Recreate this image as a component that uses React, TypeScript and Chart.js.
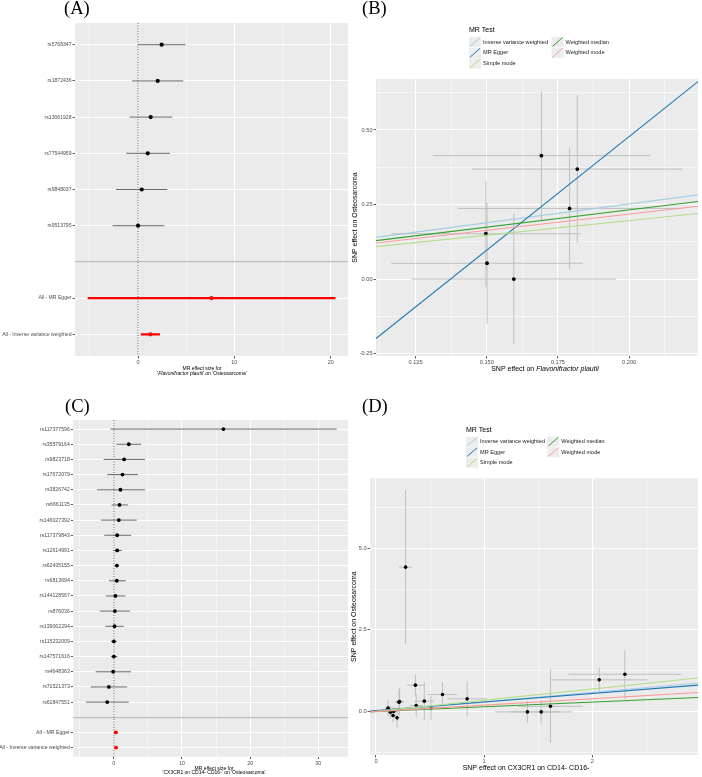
import React, { useEffect, useRef } from "react";
import { Chart, registerables } from "chart.js";

Chart.register(...registerables);

const FONT = "'Liberation Sans', Arial, Helvetica, sans-serif";
const SERIF = "'Liberation Serif', 'Times New Roman', serif";

// ---------- Panel A : forest plot ----------
const A_SNPS = ["rs5768347", "rs1872436", "rs13061928", "rs77544959", "rs9848037", "rs9513795"];
const A_EST = [2.45, 2.04, 1.31, 1.0, 0.38, 0.0];
const A_LO = [0.0, -0.62, -0.9, -1.24, -2.3, -2.65];
const A_HI = [4.93, 4.7, 3.56, 3.31, 3.04, 2.73];
const SUMMARY_LABELS = ["All - MR Egger", "All - Inverse variance weighted"];
const A_SUM_EST = [7.62, 1.28];
const A_SUM_LO = [-5.23, 0.28];
const A_SUM_HI = [20.5, 2.27];
const A_X_RANGE = [-6.55, 21.8];
const A_X_MAJOR = [0, 10, 20];
const A_X_MAJOR_LABELS = ["0", "10", "20"];
const A_X_MINOR = [-5, 5, 15];

// ---------- Panel C : forest plot ----------
const C_SNPS = [
  "rs117377596", "rs35579164", "rs9823718", "rs17672079", "rs3826742", "rs6661135",
  "rs146027392", "rs117379843", "rs12614991", "rs62435155", "rs6813694", "rs144128567",
  "rs876036", "rs139062294", "rs115232009", "rs147571616", "rs4648363", "rs71521373", "rs61847551",
];
const C_EST = [16.08, 2.19, 1.51, 1.27, 0.97, 0.83, 0.73, 0.49, 0.49, 0.44, 0.44, 0.24, 0.15, 0.1, 0.0, 0.0, -0.1, -0.73, -0.97];
const C_LO = [-0.48, 0.39, -1.51, -0.97, -2.48, -0.34, -1.9, -1.41, -0.1, 0.15, -0.73, -1.17, -2.05, -1.27, -0.44, -0.44, -2.68, -3.41, -4.09];
const C_HI = [32.7, 4.0, 4.58, 3.56, 4.58, 2.1, 3.36, 2.53, 1.17, 0.78, 1.75, 1.71, 2.39, 1.46, 0.44, 0.54, 2.53, 1.95, 2.19];
const C_SUM_EST = [0.29, 0.33];
const C_SUM_LO = [0.05, 0.15];
const C_SUM_HI = [0.54, 0.52];
const C_X_RANGE = [-5.95, 34.36];
const C_X_MAJOR = [0, 10, 20, 30];
const C_X_MAJOR_LABELS = ["0", "10", "20", "30"];
const C_X_MINOR = [-5, 5, 15, 25];

// ---------- MR methods ----------
const METHODS = ["Inverse variance weighted", "MR Egger", "Simple mode", "Weighted median", "Weighted mode"];
const METHOD_COLORS = ["#A6CEE3", "#1F78B4", "#B2DF8A", "#33A02C", "#FB9A99"];

// ---------- Panel B : scatter ----------
const B_X = [0.1692, 0.1818, 0.1791, 0.1497, 0.1501, 0.1595];
const B_Y = [0.414, 0.369, 0.237, 0.152, 0.053, 0.0];
const B_X_ERR = [0.0381, 0.0369, 0.0393, 0.0332, 0.0336, 0.0359];
const B_Y_ERR = [0.215, 0.248, 0.204, 0.177, 0.203, 0.219];
const B_SLOPES = [1.26, 7.62, 0.98, 1.16, 1.09];
const B_INTERCEPTS = [0, -1.046, 0, 0, 0];
const B_X_RANGE = [0.1111, 0.2242];
const B_Y_RANGE = [-0.258, 0.671];
const B_X_MAJOR = [0.125, 0.15, 0.175, 0.2];
const B_X_MAJOR_LABELS = ["0.125", "0.150", "0.175", "0.200"];
const B_X_MINOR = [0.1125, 0.1375, 0.1625, 0.1875, 0.2125];
const B_Y_MAJOR = [-0.25, 0, 0.25, 0.5];
const B_Y_MAJOR_LABELS = ["-0.25", "0.00", "0.25", "0.50"];
const B_Y_MINOR = [-0.125, 0.125, 0.375, 0.625];

// ---------- Panel D : scatter ----------
const D_X = [0.274, 0.112, 0.134, 0.164, 0.158, 0.195, 0.213, 0.219, 0.365, 0.372, 0.447, 0.509, 0.615, 0.843, 1.4, 1.528, 1.613, 2.064, 2.301];
const D_Y = [4.42, 0.104, -0.018, 0.0, -0.122, -0.193, 0.288, 0.306, 0.808, 0.184, 0.318, 0.113, 0.52, 0.389, -0.01, -0.01, 0.16, 0.97, 1.14];
const D_X_ERR = [0.061, 0.03, 0.03, 0.04, 0.03, 0.025, 0.04, 0.04, 0.078, 0.06, 0.09, 0.14, 0.137, 0.18, 0.3, 0.29, 0.3, 0.45, 0.52];
const D_Y_ERR = [2.36, 0.25, 0.2, 0.15, 0.2, 0.3, 0.4, 0.43, 0.33, 0.35, 0.58, 0.36, 0.37, 0.53, 0.33, 0.35, 1.12, 0.37, 0.75];
const D_SLOPES = [0.293, 0.262, 0.345, 0.145, 0.196];
const D_INTERCEPTS = [0, 0.03, 0, 0, 0];
const D_X_RANGE = [-0.055, 2.977];
const D_Y_RANGE = [-1.33, 7.14];
const D_X_MAJOR = [0, 1, 2];
const D_X_MAJOR_LABELS = ["0", "1", "2"];
const D_X_MINOR = [0.5, 1.5, 2.5];
const D_Y_MAJOR = [0, 2.5, 5];
const D_Y_MAJOR_LABELS = ["0.0", "2.5", "5.0"];
const D_Y_MINOR = [-1.25, 1.25, 3.75, 6.25];

// ---------- helpers ----------
type Seg = { text: string; italic?: boolean };
type TextItem = { x: number; y: number; size: number; segs: Seg[] };

const panelBg = {
  id: "panelBg",
  beforeDraw(chart: any) {
    const { ctx, chartArea } = chart;
    ctx.save();
    ctx.fillStyle = "#EBEBEB";
    ctx.fillRect(chartArea.left, chartArea.top, chartArea.right - chartArea.left, chartArea.bottom - chartArea.top);
    ctx.restore();
  },
};

function richTextPlugin(items: TextItem[]) {
  return {
    id: "richText",
    afterDraw(chart: any) {
      const ctx = chart.ctx;
      ctx.save();
      ctx.fillStyle = "#000000";
      ctx.textBaseline = "middle";
      ctx.textAlign = "left";
      for (const it of items) {
        const f = (s: Seg) => `${s.italic ? "italic " : ""}${it.size}px ${FONT}`;
        const ws = it.segs.map((s) => {
          ctx.font = f(s);
          return ctx.measureText(s.text).width;
        });
        const total = ws.reduce((a, b) => a + b, 0);
        let x = it.x - total / 2;
        it.segs.forEach((s, k) => {
          ctx.font = f(s);
          ctx.fillText(s.text, x, it.y);
          x += ws[k];
        });
      }
      ctx.restore();
    },
  };
}

function legendPlugin(o: { x: number; titleY: number; row0: number; rowH: number; col2: number; keyW: number; gap: number }) {
  return {
    id: "mrLegend",
    afterDraw(chart: any) {
      const ctx = chart.ctx;
      ctx.save();
      ctx.textBaseline = "middle";
      ctx.textAlign = "left";
      ctx.fillStyle = "#000000";
      ctx.font = `7px ${FONT}`;
      ctx.fillText("MR Test", o.x, o.titleY);
      ctx.font = `5.6px ${FONT}`;
      METHODS.forEach((name, i) => {
        const col = i < 3 ? 0 : 1;
        const row = i < 3 ? i : i - 3;
        const kx = col === 0 ? o.x : o.col2;
        const cy = o.row0 + row * o.rowH;
        const ky = cy - o.rowH / 2;
        ctx.fillStyle = "#EDEDED";
        ctx.fillRect(kx, ky + 0.25, o.keyW, o.rowH - 0.5);
        ctx.strokeStyle = METHOD_COLORS[i];
        ctx.lineWidth = 1;
        ctx.beginPath();
        ctx.moveTo(kx + 1, ky + o.rowH - 1);
        ctx.lineTo(kx + o.keyW - 1, ky + 1);
        ctx.stroke();
        ctx.fillStyle = "#1A1A1A";
        ctx.fillText(name, kx + o.keyW + o.gap, cy);
      });
      ctx.restore();
    },
  };
}

const near = (a: number, b: number) => Math.abs(a - b) < 1e-9;
const majorIndex = (arr: number[], v: number) => arr.findIndex((m) => near(m, v));

function valueAxis(p: {
  min: number; max: number; major: number[]; labels: string[]; minor: number[];
  fitKey: "width" | "height"; fit: number; size: number; title?: any;
}) {
  const ticks = [...p.major, ...p.minor].sort((a, b) => a - b);
  return {
    type: "linear",
    min: p.min,
    max: p.max,
    afterBuildTicks: (s: any) => {
      s.ticks = ticks.map((v) => ({ value: v }));
    },
    afterFit: (s: any) => {
      s[p.fitKey] = p.fit;
    },
    ticks: {
      autoSkip: false,
      maxRotation: 0,
      padding: 1,
      color: "#4D4D4D",
      font: { size: p.size, family: FONT },
      callback: (v: number) => {
        const k = majorIndex(p.major, v);
        return k >= 0 ? p.labels[k] : "";
      },
    },
    grid: {
      color: "#FFFFFF",
      lineWidth: (c: any) => (c.tick && majorIndex(p.major, c.tick.value) >= 0 ? 1 : 0.5),
      tickColor: (c: any) => (c.tick && majorIndex(p.major, c.tick.value) >= 0 ? "#333333" : "rgba(0,0,0,0)"),
      tickLength: 2.5,
      tickWidth: 0.8,
    },
    border: { display: false },
    title: p.title || { display: false },
  };
}

function forestConfig(p: any) {
  const n = p.snps.length;
  const sepRow = n + 1;
  const N = n + 1 + SUMMARY_LABELS.length;
  const rows = Array.from({ length: N }, (_, i) => i + 1);
  const rowLabel = (v: number) => (v <= n ? p.snps[v - 1] : v === sepRow ? "" : SUMMARY_LABELS[v - n - 2]);
  const segs = (lo: number[], hi: number[], row0: number) =>
    lo.flatMap((l, i) => [{ x: l, y: row0 + i }, { x: hi[i], y: row0 + i }, { x: null, y: null }]);
  return {
    type: "scatter",
    data: {
      datasets: [
        { type: "scatter", data: p.sumEst.map((e: number, i: number) => ({ x: e, y: n + 2 + i })), pointRadius: p.ptR, backgroundColor: "#FF0000", borderWidth: 0 },
        { type: "scatter", data: p.est.map((e: number, i: number) => ({ x: e, y: i + 1 })), pointRadius: p.ptR, backgroundColor: "#000000", borderWidth: 0 },
        { type: "line", data: segs(p.sumLo, p.sumHi, n + 2), borderColor: "#FF0000", borderWidth: 2.2, pointRadius: 0, spanGaps: false },
        { type: "line", data: segs(p.lo, p.hi, 1), borderColor: "#6B6B6B", borderWidth: 1, pointRadius: 0, spanGaps: false },
        { type: "line", data: [{ x: 0, y: 0.4 }, { x: 0, y: N + 0.6 }], borderColor: "#333333", borderWidth: 0.8, borderDash: [1, 1.6], pointRadius: 0 },
      ],
    },
    options: {
      animation: false,
      responsive: false,
      events: [],
      layout: { padding: { left: 0, top: p.top, right: p.right, bottom: 0 } },
      plugins: { legend: { display: false }, tooltip: { enabled: false } },
      scales: {
        x: valueAxis({ min: p.xRange[0], max: p.xRange[1], major: p.xMajor, labels: p.xLabels, minor: p.xMinor, fitKey: "height", fit: p.xAxisH, size: 5.4 }),
        y: {
          type: "linear",
          reverse: true,
          min: 0.4,
          max: N + 0.6,
          afterBuildTicks: (s: any) => {
            s.ticks = rows.map((v) => ({ value: v }));
          },
          afterFit: (s: any) => {
            s.width = p.yAxisW;
          },
          ticks: {
            autoSkip: false,
            padding: 1,
            color: "#4D4D4D",
            font: { size: p.ySize, family: FONT },
            callback: (v: number) => rowLabel(v),
          },
          grid: {
            color: (c: any) => (c.tick && c.tick.value === sepRow ? "#BEBEBE" : "#FFFFFF"),
            lineWidth: (c: any) => (c.tick && c.tick.value === sepRow ? 1.3 : 1),
            tickColor: (c: any) => (c.tick && c.tick.value === sepRow ? "rgba(0,0,0,0)" : "#333333"),
            tickLength: 2.5,
            tickWidth: 0.8,
          },
          border: { display: false },
        },
      },
    },
    plugins: [panelBg, richTextPlugin(p.texts)],
  };
}

function scatterConfig(p: any) {
  const lines = METHODS.map((m, i) => ({
    type: "line",
    label: m,
    data: [
      { x: p.xRange[0], y: p.intercepts[i] + p.slopes[i] * p.xRange[0] },
      { x: p.xRange[1], y: p.intercepts[i] + p.slopes[i] * p.xRange[1] },
    ],
    borderColor: METHOD_COLORS[i],
    borderWidth: 1.1,
    pointRadius: 0,
  })).reverse();
  const vErr = p.x.flatMap((xv: number, i: number) => [
    { x: xv, y: p.y[i] - p.yErr[i] },
    { x: xv, y: p.y[i] + p.yErr[i] },
    { x: null, y: null },
  ]);
  const hErr = p.x.flatMap((xv: number, i: number) => [
    { x: xv - p.xErr[i], y: p.y[i] },
    { x: xv + p.xErr[i], y: p.y[i] },
    { x: null, y: null },
  ]);
  return {
    type: "scatter",
    data: {
      datasets: [
        ...lines,
        { type: "scatter", data: p.x.map((xv: number, i: number) => ({ x: xv, y: p.y[i] })), pointRadius: p.ptR, backgroundColor: "#000000", borderWidth: 0 },
        { type: "line", data: vErr, borderColor: "#BEBEBE", borderWidth: 1, pointRadius: 0, spanGaps: false },
        { type: "line", data: hErr, borderColor: "#BEBEBE", borderWidth: 1, pointRadius: 0, spanGaps: false },
      ],
    },
    options: {
      animation: false,
      responsive: false,
      events: [],
      layout: { padding: { left: 0, top: p.top, right: 0, bottom: 0 } },
      plugins: { legend: { display: false }, tooltip: { enabled: false } },
      scales: {
        x: valueAxis({ min: p.xRange[0], max: p.xRange[1], major: p.xMajor, labels: p.xLabels, minor: p.xMinor, fitKey: "height", fit: p.xAxisH, size: 5.6 }),
        y: valueAxis({
          min: p.yRange[0], max: p.yRange[1], major: p.yMajor, labels: p.yLabels, minor: p.yMinor, fitKey: "width", fit: p.yAxisW, size: 5.6,
          title: { display: true, text: "SNP effect on Osteosarcoma", color: "#000000", font: { size: 7, family: FONT }, padding: { top: p.yTitlePad, bottom: 0 } },
        }),
      },
    },
    plugins: [panelBg, richTextPlugin(p.texts), legendPlugin(p.legend)],
  };
}

function ChartCanvas({ left, top, width, height, build }: { left: number; top: number; width: number; height: number; build: () => any }) {
  const ref = useRef<HTMLCanvasElement | null>(null);
  useEffect(() => {
    if (!ref.current) return;
    const chart = new Chart(ref.current, build());
    return () => chart.destroy();
  }, []);
  return <canvas ref={ref} width={width} height={height} style={{ position: "absolute", left, top, width, height }} />;
}

function PanelLabel({ text, left, top }: { text: string; left: number; top: number }) {
  return (
    <div style={{ position: "absolute", left, top, fontFamily: SERIF, fontSize: 18.5, lineHeight: 1, color: "#000" }}>{text}</div>
  );
}

const buildA = () =>
  forestConfig({
    snps: A_SNPS, est: A_EST, lo: A_LO, hi: A_HI,
    sumEst: A_SUM_EST, sumLo: A_SUM_LO, sumHi: A_SUM_HI,
    xRange: A_X_RANGE, xMajor: A_X_MAJOR, xLabels: A_X_MAJOR_LABELS, xMinor: A_X_MINOR,
    top: 23, right: 3, yAxisW: 75, xAxisH: 34, ySize: 5.1, ptR: 2.1,
    texts: [
      { x: 202, y: 369, size: 5, segs: [{ text: "MR effect size for" }] },
      { x: 202, y: 373.9, size: 5, segs: [{ text: "'" }, { text: "Flavonifractor plautii", italic: true }, { text: "' on 'Osteosarcoma'" }] },
    ],
  });

const buildC = () =>
  forestConfig({
    snps: C_SNPS, est: C_EST, lo: C_LO, hi: C_HI,
    sumEst: C_SUM_EST, sumLo: C_SUM_LO, sumHi: C_SUM_HI,
    xRange: C_X_RANGE, xMajor: C_X_MAJOR, xLabels: C_X_MAJOR_LABELS, xMinor: C_X_MINOR,
    top: 30, right: 3, yAxisW: 73.3, xAxisH: 20.3, ySize: 5.2, ptR: 1.9,
    texts: [
      { x: 214, y: 378.3, size: 5, segs: [{ text: "MR effect size for" }] },
      { x: 214, y: 383, size: 5, segs: [{ text: "'CX3CR1 on CD14- CD16-' on 'Osteosarcoma'" }] },
    ],
  });

const buildB = () =>
  scatterConfig({
    x: B_X, y: B_Y, xErr: B_X_ERR, yErr: B_Y_ERR, slopes: B_SLOPES, intercepts: B_INTERCEPTS,
    xRange: B_X_RANGE, yRange: B_Y_RANGE,
    xMajor: B_X_MAJOR, xLabels: B_X_MAJOR_LABELS, xMinor: B_X_MINOR,
    yMajor: B_Y_MAJOR, yLabels: B_Y_MAJOR_LABELS, yMinor: B_Y_MINOR,
    top: 79, yAxisW: 31, xAxisH: 34, yTitlePad: 5.8, ptR: 1.9,
    texts: [{ x: 200, y: 369.3, size: 7, segs: [{ text: "SNP effect on " }, { text: "Flavonifractor plautii", italic: true }] }],
    legend: { x: 124, titleY: 30, row0: 42, rowH: 10.8, col2: 206.5, keyW: 12, gap: 2 },
  });

const buildD = () =>
  scatterConfig({
    x: D_X, y: D_Y, xErr: D_X_ERR, yErr: D_Y_ERR, slopes: D_SLOPES, intercepts: D_INTERCEPTS,
    xRange: D_X_RANGE, yRange: D_Y_RANGE,
    xMajor: D_X_MAJOR, xLabels: D_X_MAJOR_LABELS, xMinor: D_X_MINOR,
    yMajor: D_Y_MAJOR, yLabels: D_Y_MAJOR_LABELS, yMinor: D_Y_MINOR,
    top: 88.3, yAxisW: 25, xAxisH: 22, yTitlePad: 4.8, ptR: 1.8,
    texts: [{ x: 181, y: 377.7, size: 7, segs: [{ text: "SNP effect on CX3CR1 on CD14- CD16-" }] }],
    legend: { x: 121, titleY: 40, row0: 51.7, rowH: 10.5, col2: 202.3, keyW: 12, gap: 2 },
  });

export default function App() {
  return (
    <div style={{ position: "absolute", left: 0, top: 0, width: 702, height: 777, background: "#FFFFFF", overflow: "hidden" }}>
      <ChartCanvas left={0} top={0} width={352} height={390} build={buildA} />
      <ChartCanvas left={345} top={0} width={357} height={390} build={buildB} />
      <ChartCanvas left={0} top={390} width={352} height={387} build={buildC} />
      <ChartCanvas left={345} top={390} width={357} height={387} build={buildD} />
      <PanelLabel text="(A)" left={64} top={-1.3} />
      <PanelLabel text="(B)" left={362} top={-1.3} />
      <PanelLabel text="(C)" left={65} top={397} />
      <PanelLabel text="(D)" left={362} top={397} />
    </div>
  );
}
